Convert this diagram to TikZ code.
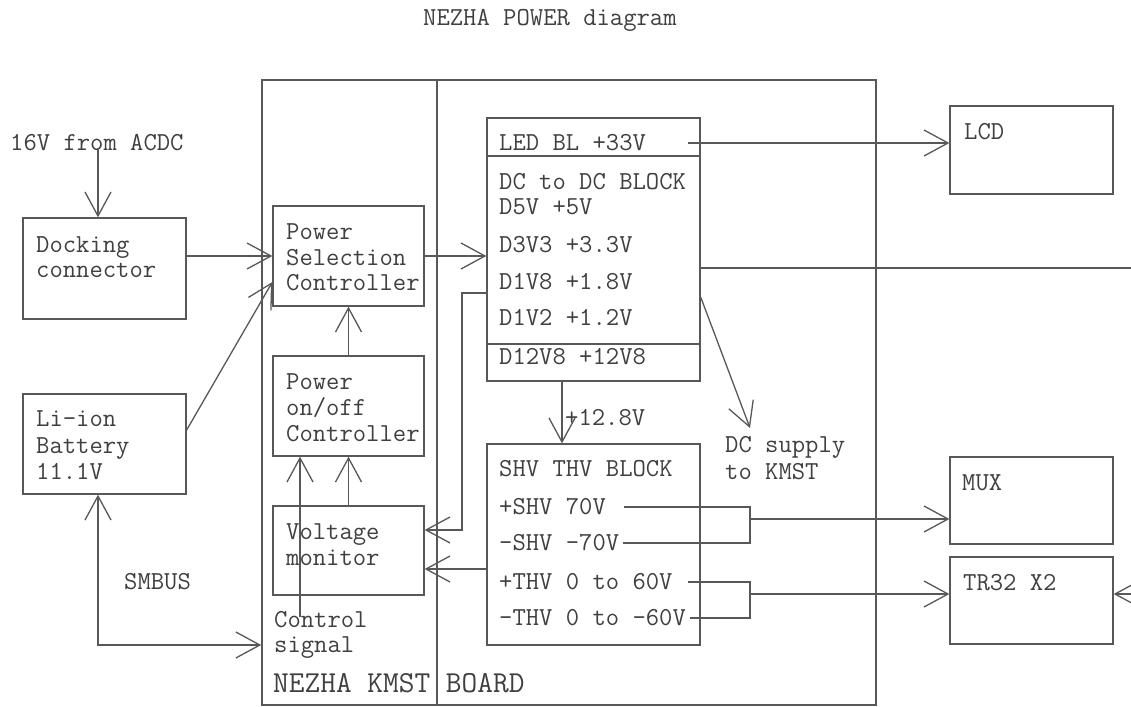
\documentclass[tikz,border=0pt]{standalone}
\usepackage{fontspec}
\usetikzlibrary{arrows.meta}
\definecolor{linec}{RGB}{88,88,88}
\definecolor{textc}{RGB}{64,64,64}
\tikzset{
  ln/.style={draw=linec, line width=1.3pt},
  blk/.style={ln, rectangle, inner sep=0pt},
  txt/.style={font=\ttfamily\fontsize{25.9}{30}\selectfont, text=textc, inner sep=0pt, anchor=west, text height=15.8pt, text depth=0pt},
  bigtxt/.style={txt, font=\ttfamily\fontsize{30.5}{34}\selectfont, text height=18pt},
  arr/.style={ln, -{Straight Barb[length=24pt,width=26pt]}},
  darr/.style={ln, {Straight Barb[length=24pt,width=26pt]}-{Straight Barb[length=24pt,width=26pt]}},
}
\begin{document}
\begin{tikzpicture}[x=1pt,y=-1pt]
\useasboundingbox[fill=white] (0,0) rectangle (1131,706);

% title
\node[txt] (title) at (423,18) {NEZHA POWER diagram};

% board
\node[blk, line width=1.6pt, minimum width=614pt, minimum height=625pt] (board) at (569,392.5) {};
\coordinate (dx) at (437,0);
\draw[ln, line width=1.6pt] (board.north -| dx) -- (board.south -| dx);
\node[bigtxt] (boardlbl) at (273,683) {NEZHA KMST BOARD};

% left blocks
\node[blk, minimum width=163pt, minimum height=101pt] (dock) at (104.5,268.5) {};
\node[txt] (dock1) at (36,245) {Docking};
\node[txt] (dock2) at (36,270) {connector};

\node[blk, minimum width=163pt, minimum height=100pt] (batt) at (104.5,444) {};
\node[txt] (batt1) at (36,419) {Li-ion};
\node[txt] (batt2) at (36,446) {Battery};
\node[txt] (batt3) at (36,472) {11.1V};

\node[txt] (acdc) at (10,143) {16V from ACDC};
\coordinate (acdcsrc) at (98,148);
\node[txt] (smbus) at (124,582) {SMBUS};

% controllers
\node[blk, minimum width=151pt, minimum height=100pt] (psc) at (348.5,256) {};
\node[txt] (psc1) at (286,232) {Power};
\node[txt] (psc2) at (286,258) {Selection};
\node[txt] (psc3) at (286,283) {Controller};

\node[blk, minimum width=151pt, minimum height=100pt] (onoff) at (348.5,406) {};
\node[txt] (oo1) at (286,382) {Power};
\node[txt] (oo2) at (286,408) {on/off};
\node[txt] (oo3) at (286,434) {Controller};

\node[blk, minimum width=151pt, minimum height=89pt] (vm) at (348.5,550.5) {};
\node[txt] (vm1) at (286,532) {Voltage};
\node[txt] (vm2) at (286,558) {monitor};

\node[txt] (ctl1) at (274,620) {Control};
\node[txt] (ctl2) at (274,645) {signal};
\coordinate (ctlsrc) at (300,617);

% DC to DC block
\node[blk, minimum width=213pt, minimum height=263pt] (dcdc) at (593.5,249.5) {};
\coordinate (div1) at (0,156);
\coordinate (div2) at (0,344);
\draw[ln] (dcdc.west |- div1) -- (dcdc.east |- div1);
\draw[ln] (dcdc.west |- div2) -- (dcdc.east |- div2);
\node[txt] (led) at (499,143) {LED BL +33V};
\node[txt] (dc0) at (499,182) {DC to DC BLOCK};
\node[txt] (dc1) at (499,207) {D5V +5V};
\node[txt] (dc2) at (499,245) {D3V3 +3.3V};
\node[txt] (dc3) at (499,282) {D1V8 +1.8V};
\node[txt] (dc4) at (499,318) {D1V2 +1.2V};
\node[txt] (dc5) at (499,357) {D12V8 +12V8};

% SHV THV block
\node[blk, minimum width=213pt, minimum height=201pt] (shv) at (593.5,544.5) {};
\node[txt] (sh0) at (499,469) {SHV THV BLOCK};
\node[txt] (sh1) at (499,507) {+SHV 70V};
\node[txt] (sh2) at (499,543) {-SHV -70V};
\node[txt] (sh3) at (499,582) {+THV 0 to 60V};
\node[txt] (sh4) at (499,618) {-THV 0 to -60V};
\node[txt] (v128) at (565,418) {+12.8V};
\node[txt] (dcs1) at (725,445) {DC supply};
\node[txt] (dcs2) at (725,472) {to KMST};

% right blocks
\node[blk, minimum width=163pt, minimum height=88pt] (lcd) at (1031.5,150) {};
\node[txt] (lcdt) at (964,132) {LCD};
\node[blk, minimum width=163pt, minimum height=87pt] (mux) at (1031.5,500.5) {};
\node[txt] (muxt) at (962,483) {MUX};
\node[blk, minimum width=163pt, minimum height=87pt] (tr) at (1031.5,600.5) {};
\node[txt] (trt) at (963,583) {TR32 X2};

% connectors
\draw[arr] (acdcsrc) -- (dock.north -| acdcsrc);
\draw[arr] (dock.east |- psc.west) -- (psc.west);
\draw[arr] ([yshift=14pt]batt.east) -- ([yshift=-26pt]psc.west);
\draw[arr] (psc.east) -- (psc.east -| dcdc.west);
\draw[arr] (onoff.north) -- (psc.south);
\draw[arr] (vm.north) -- (onoff.south);
\draw[arr] (ctlsrc) -- (ctlsrc |- onoff.south);
\coordinate (smc) at (98,645);
\draw[darr] (batt.south -| smc) -- (smc) -- (smc -| board.west);

\coordinate (j1) at (462,293);
\draw[arr] (j1 -| dcdc.west) -- (j1) |- ([yshift=20.5pt]vm.east);
\coordinate (a569) at (0,569);
\draw[arr] (shv.west |- a569) -- (vm.east |- a569);
\coordinate (x562) at (562,0);
\draw[arr] (dcdc.south -| x562) -- (shv.north -| x562);

\coordinate (ledend) at (688,143);
\draw[arr] (ledend) -- (lcd.west |- ledend);
\coordinate (r268) at (1131,268);
\draw[ln] (dcdc.east |- r268) -- (r268);
\coordinate (dcsup) at (750,428);
\draw[arr] ([yshift=-47.5pt]dcdc.east) -- (dcsup);

\coordinate (b1a) at (624,507);
\coordinate (b1b) at (750,507);
\coordinate (b1c) at (750,543);
\coordinate (b1d) at (623,543);
\coordinate (b1m) at (750,519);
\draw[ln] (b1a) -- (b1b) -- (b1c) -- (b1d);
\draw[arr] (b1m) -- (mux.west |- b1m);

\coordinate (b2a) at (688,582);
\coordinate (b2b) at (750,582);
\coordinate (b2c) at (750,618);
\coordinate (b2d) at (690,618);
\coordinate (b2m) at (750,594);
\draw[ln] (b2a) -- (b2b) -- (b2c) -- (b2d);
\draw[arr] (b2m) -- (tr.west |- b2m);
\coordinate (redge) at (1131,594);
\draw[arr] (redge) -- (tr.east |- redge);
\end{tikzpicture}
\end{document}
